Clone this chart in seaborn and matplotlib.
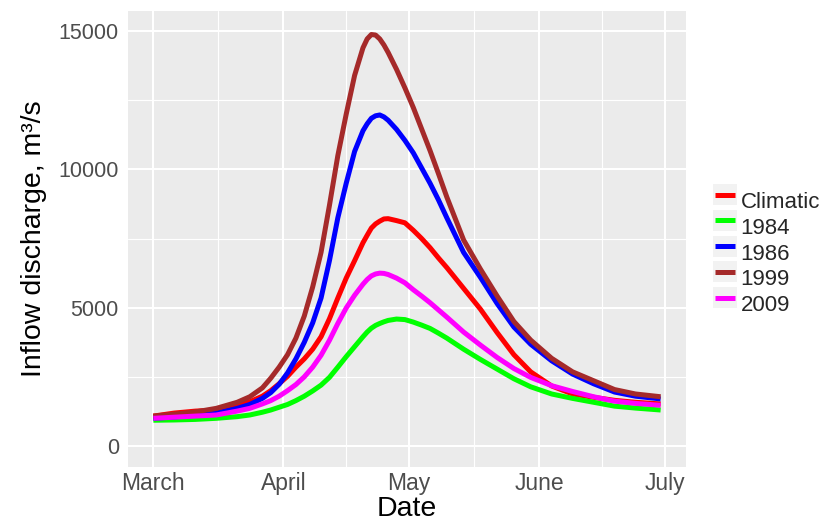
import numpy as np
import pandas as pd
import matplotlib
matplotlib.use("Agg")
import matplotlib.pyplot as plt
import matplotlib.dates as mdates
from matplotlib.patches import Rectangle
from matplotlib.lines import Line2D
import seaborn as sns

# ---------------- data ----------------
start_date = "2001-03-01"
days = [0, 5, 10, 15, 20, 23, 26, 28, 30, 32, 34, 36, 38, 40, 42, 44, 46, 48,
        50, 51, 52, 53, 54, 55, 56, 58, 60, 62, 64, 66, 68, 70, 74, 78, 82,
        86, 90, 95, 100, 105, 110, 115, 121]

climatic = [1080, 1190, 1260, 1300, 1480, 1600, 1800, 2000, 2250, 2520, 2850,
            3150, 3500, 3950, 4600, 5350, 6070, 6700, 7350, 7620, 7880, 8030,
            8130, 8210, 8220, 8150, 8070, 7800, 7500, 7170, 6800, 6450, 5700,
            4950, 4100, 3300, 2680, 2170, 1880, 1760, 1650, 1580, 1520]
y1984 = [930, 940, 960, 1000, 1060, 1120, 1220, 1300, 1400, 1500, 1640,
         1800, 1990, 2200, 2480, 2850, 3230, 3590, 3950, 4120, 4260, 4360,
         4430, 4490, 4540, 4590, 4570, 4480, 4370, 4250, 4080, 3900, 3500,
         3130, 2780, 2430, 2140, 1880, 1720, 1580, 1440, 1370, 1300]
y1986 = [1000, 1050, 1110, 1180, 1360, 1500, 1720, 1930, 2230, 2640, 3150,
         3750, 4450, 5350, 6700, 8250, 9500, 10650, 11400, 11650, 11850, 11940,
         11970, 11900, 11780, 11450, 11050, 10600, 10050, 9500, 8900, 8250, 7000,
         6100, 5150, 4300, 3680, 3080, 2600, 2250, 1950, 1800, 1700]
y1999 = [1080, 1150, 1230, 1360, 1580, 1780, 2100, 2450, 2850, 3300, 3900,
         4700, 5750, 7000, 8700, 10500, 12000, 13400, 14400, 14720, 14880, 14860,
         14720, 14500, 14230, 13620, 12950, 12240, 11460, 10680, 9850, 9000, 7450,
         6400, 5420, 4500, 3830, 3170, 2680, 2360, 2040, 1880, 1780]
y2009 = [1000, 1040, 1080, 1120, 1260, 1360, 1520, 1640, 1800, 2000, 2220,
         2500, 2850, 3280, 3820, 4430, 4990, 5450, 5850, 6020, 6150, 6220,
         6250, 6240, 6200, 6070, 5900, 5650, 5420, 5180, 4920, 4660, 4120,
         3650, 3200, 2800, 2480, 2180, 1970, 1780, 1620, 1540, 1470]

series_names = ["Climatic", "1984", "1986", "1999", "2009"]
series_values = [climatic, y1984, y1986, y1999, y2009]
series_colors = ["#FF0000", "#00FF00", "#0000FF", "#A52A2A", "#FF00FF"]

month_ticks = ["2001-03-01", "2001-04-01", "2001-05-01", "2001-06-01", "2001-07-01"]
month_labels = ["March", "April", "May", "June", "July"]
y_ticks = [0, 5000, 10000, 15000]

# ---------------- frame ----------------
dates = pd.Timestamp(start_date) + pd.to_timedelta(days, unit="D")
df = pd.concat(
    [pd.DataFrame({"Date": dates, "Discharge": v, "Series": n})
     for n, v in zip(series_names, series_values)],
    ignore_index=True,
)

sns.set_theme(style="darkgrid")
plt.rcParams["font.family"] = ["Liberation Sans", "DejaVu Sans"]

fig = plt.figure(figsize=(8.26, 5.22), dpi=100)
fig.patch.set_facecolor("white")
W, H = 826, 522
ax = fig.add_axes([128 / W, 1 - 466.7 / H, (686 - 128) / W, (466.7 - 11) / H])
ax.set_facecolor("#EBEBEB")

LW = 3.6
palette = dict(zip(series_names, series_colors))
sns.lineplot(data=df, x="Date", y="Discharge", hue="Series",
             hue_order=series_names, palette=palette, linewidth=LW,
             ax=ax, legend=True, estimator=None, sort=True)
for ln in ax.get_lines():
    ln.set_solid_joinstyle("round")
    ln.set_solid_capstyle("butt")

# limits (ggplot-like 5% expansion)
d0 = mdates.date2num(dates.min())
d1 = mdates.date2num(dates.max())
span = d1 - d0
ax.set_xlim(d0 - 0.05 * span, d1 + 0.05 * span)
ax.set_ylim(-750, 15730)

# ticks
major = mdates.date2num(pd.to_datetime(month_ticks))
ax.set_xticks(major)
ax.set_xticklabels(month_labels)
minor = (major[:-1] + major[1:]) / 2
ax.set_xticks(minor, minor=True)
ax.set_yticks(y_ticks)
ax.set_yticklabels([str(t) for t in y_ticks])
ax.set_yticks([2500, 7500, 12500], minor=True)

ax.grid(True, which="major", color="white", linewidth=1.5)
ax.grid(True, which="minor", color="white", linewidth=0.8)
ax.set_axisbelow(True)
for s in ax.spines.values():
    s.set_visible(False)

ax.tick_params(axis="both", which="major", length=3.6, width=1.0, color="#333333",
               labelcolor="#4D4D4D")
ax.tick_params(axis="x", which="major", pad=0.5, labelsize=16.5)
ax.tick_params(axis="y", which="major", pad=3, labelsize=15.5)
ax.tick_params(axis="both", which="minor", length=0)

ax.set_xlabel("Date", fontsize=20.5, color="black", labelpad=0.5)
ax.set_ylabel("Inflow discharge, m³/s", fontsize=20.5, color="black", labelpad=8.5)

# legend with grey key boxes
class BoxedLineHandler:
    def legend_artist(self, legend, orig_handle, fontsize, handlebox):
        x0, y0 = handlebox.xdescent, handlebox.ydescent
        w, h = handlebox.width, handlebox.height
        tr = handlebox.get_transform()
        rect = Rectangle((x0, y0), w, h, facecolor="#F2F2F2", edgecolor="none",
                         transform=tr)
        line = Line2D([x0 + 0.09 * w, x0 + 0.91 * w], [y0 + h / 2, y0 + h / 2],
                      color=orig_handle.get_color(), linewidth=LW,
                      solid_capstyle="butt", transform=tr)
        handlebox.add_artist(rect)
        handlebox.add_artist(line)
        return line

handles, labels = ax.get_legend_handles_labels()
ax.get_legend().remove()
fs = 16
px = fs * 100 / 72
fig.legend(handles, labels, loc="upper left",
           bbox_to_anchor=(712.7 / W, 1 - 190 / H),
           frameon=False, borderpad=0, borderaxespad=0,
           handlelength=24 / px, handleheight=24 / px,
           handletextpad=4 / px, labelspacing=0.12,
           fontsize=fs, handler_map={Line2D: BoxedLineHandler()})

fig.savefig("out.png", dpi=100, facecolor="white")
